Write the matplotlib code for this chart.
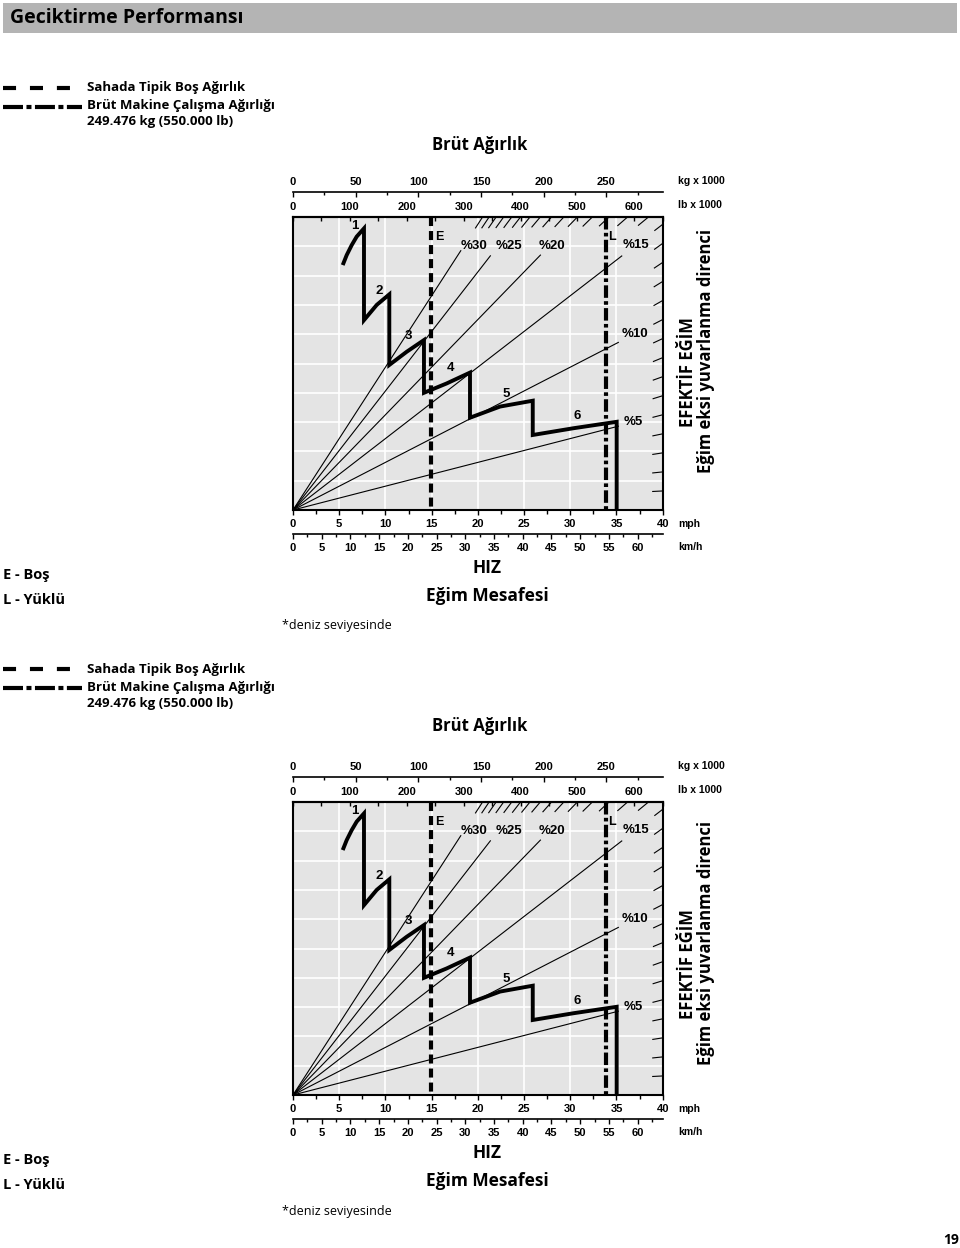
import numpy as np
import matplotlib
matplotlib.use("Agg")
import matplotlib.pyplot as plt
from matplotlib import font_manager as fm
from matplotlib.patches import Rectangle

# -----------------------------------------------------------------------------
# Chart data
# -----------------------------------------------------------------------------
MAX_MPH = 40          # bottom axis, mph
MAX_LB = 650          # gross weight axis, lb x 1000
MAX_FORCE = 100       # hidden vertical scale (retarding force)
EMPTY_LB = 243.5      # E - empty weight
LOADED_LB = 550       # L - loaded weight (550.000 lb)

GRADES = [30, 25, 20, 15, 10, 5]                 # labelled effective grade lines, %
GRADE_LINE_END_LB = [295, 347, 435, 578, 572, 572]
HATCH_GRADES = list(range(1, 31))                # small grade ticks at the edges

GEAR_NAMES = ["1", "2", "3", "4", "5", "6"]
GEAR_SPEED = [
    [5.38, 5.81, 6.35, 6.89, 7.68],
    [7.68, 9.06, 10.42],
    [10.42, 12.30, 14.17],
    [14.17, 16.63, 19.15],
    [19.15, 22.40, 25.94],
    [25.94, 30.33, 35.02],
]
GEAR_FORCE = [
    [83.6, 87.0, 90.4, 93.3, 96.1],
    [64.8, 70.0, 73.6],
    [49.5, 54.0, 58.0],
    [40.0, 43.2, 46.9],
    [31.5, 35.3, 37.3],
    [25.6, 27.9, 30.1],
]

LB_TICKS = np.arange(0, 601, 100)
KG_TICKS = np.arange(0, 251, 50)
MPH_TICKS = np.arange(0, 41, 5)
KMH_TICKS = np.arange(0, 61, 5)

LEGEND_EMPTY = "Sahada Tipik Boş Ağırlık"
LEGEND_LOADED = ["Brüt Makine Çalışma Ağırlığı", "249.476 kg (550.000 lb)"]

# -----------------------------------------------------------------------------
# Layout (pixels)
# -----------------------------------------------------------------------------
W_PX, H_PX = 960, 1248
PLOT_L, PLOT_T, PLOT_W, PLOT_H = 293, 217, 369.7, 293
CHART_OFFSETS = [0, 585]

# label positions: (lb, force) for grade labels, (mph, force) for gears
GRADE_LABEL_POS = [(318, 90), (380, 90), (455, 90), (603, 90.4), (601, 60.1), (598, 29.9)]
GEAR_LABEL_POS = [(6.71, 97.0), (9.34, 74.8), (12.48, 59.4), (17.06, 48.4), (23.12, 39.5), (30.76, 32.1)]

names = {f.name for f in fm.fontManager.ttflist}
NUM_FONT = "Liberation Sans Narrow" if "Liberation Sans Narrow" in names else "Liberation Sans"
PROSE = ["Open Sans", "DejaVu Sans"]
TICK_SIZE = 8

plt.rcParams["font.family"] = [NUM_FONT, "DejaVu Sans"]
plt.rcParams["font.weight"] = "bold"
plt.rcParams["lines.scale_dashes"] = False


def mph_to_lb(x):
    return np.asarray(x) * MAX_LB / MAX_MPH


def lb_to_mph(w):
    return np.asarray(w) * MAX_MPH / MAX_LB


def mph_to_kg(x):
    return mph_to_lb(x) / 2.20462


def kg_to_mph(k):
    return lb_to_mph(np.asarray(k) * 2.20462)


def mph_to_kmh(x):
    return np.asarray(x) * 1.609344


def kmh_to_mph(k):
    return np.asarray(k) / 1.609344


def px_rect(left, top, width, height):
    return [left / W_PX, 1 - (top + height) / H_PX, width / W_PX, height / H_PX]


def draw_chart(fig, dy):
    ax = fig.add_axes(px_rect(PLOT_L, PLOT_T + dy, PLOT_W, PLOT_H))
    ax.set_xlim(0, MAX_MPH)
    ax.set_ylim(0, MAX_FORCE)
    ax.set_facecolor("#e4e4e4")

    # white grid
    ax.set_xticks(MPH_TICKS)
    ax.set_xticks(np.arange(0, 40.1, 2.5), minor=True)
    ax.set_yticks(np.arange(0, 101, 10))
    ax.grid(True, which="major", color="white", lw=1.2)
    ax.set_axisbelow(True)
    ax.tick_params(axis="y", left=False, labelleft=False)
    ax.tick_params(axis="x", which="major", direction="out", length=3.4, width=1,
                   pad=3.2, labelsize=TICK_SIZE, top=False)
    ax.tick_params(axis="x", which="minor", direction="out", length=3.0, width=1, top=False)
    for s in ax.spines.values():
        s.set_linewidth(1.5)

    # weight axes on top
    lb_ax = ax.secondary_xaxis("top", functions=(mph_to_lb, lb_to_mph))
    lb_ax.set_xticks(LB_TICKS)
    lb_ax.set_xticks(np.arange(50, 651, 100), minor=True)
    lb_ax.tick_params(which="both", direction="in", length=3, width=1, pad=3.3,
                      labelsize=TICK_SIZE)
    lb_ax.spines["top"].set_linewidth(1.5)

    kg_ax = ax.secondary_xaxis(1 + 24.7 / PLOT_H, functions=(mph_to_kg, kg_to_mph))
    kg_ax.set_xticks(KG_TICKS)
    kg_ax.set_xticks(np.arange(25, 276, 50), minor=True)
    kg_ax.tick_params(which="major", direction="in", length=3.4, width=1, pad=3.5,
                      labelsize=TICK_SIZE)
    kg_ax.tick_params(which="minor", direction="in", length=2.4, width=1)
    kg_ax.spines["top"].set_linewidth(1.2)

    kmh_ax = ax.secondary_xaxis(-(534.3 - 510) / PLOT_H, functions=(mph_to_kmh, kmh_to_mph))
    kmh_ax.set_xticks(KMH_TICKS)
    kmh_ax.set_xticks(np.arange(2.5, 64, 5), minor=True)
    kmh_ax.tick_params(which="major", direction="out", length=3.4, width=1, pad=2.6,
                       labelsize=TICK_SIZE)
    kmh_ax.tick_params(which="minor", direction="out", length=2.4, width=1)
    kmh_ax.spines["bottom"].set_linewidth(1.2)

    # effective grade lines from the origin
    for g, w_end, (wl, fl) in zip(GRADES, GRADE_LINE_END_LB, GRADE_LABEL_POS):
        ax.plot([0, lb_to_mph(w_end)], [0, g * w_end / 100], color="black", lw=0.8)
        ax.text(lb_to_mph(wl), fl, f"%{g}", ha="center", va="center", fontsize=9.5)

    # short grade ticks along the top and right edges
    px_lb = PLOT_W / MAX_LB
    px_f = PLOT_H / MAX_FORCE
    for g in HATCH_GRADES:
        w_edge = min(MAX_LB, 100 * MAX_FORCE / g)
        seg = 10 if w_edge >= MAX_LB else 13
        w0 = w_edge - seg / np.hypot(px_lb, px_f * g / 100)
        ax.plot(lb_to_mph([w0, w_edge]), [g * w0 / 100, g * w_edge / 100],
                color="black", lw=0.8)

    # empty / loaded weight lines
    xe = lb_to_mph(EMPTY_LB)
    xl = lb_to_mph(LOADED_LB)
    ax.plot([xe, xe], [MAX_FORCE, 0], color="black", lw=3, dashes=(6.5, 3.6),
            dash_capstyle="butt")
    ax.plot([xl, xl], [MAX_FORCE, 0], color="black", lw=3, dashes=(9, 2.4, 2.6, 2.4),
            dash_capstyle="butt")
    ax.text(xe + 0.35, 93.2, "E", ha="left", va="center", fontsize=9)
    ax.text(xl + 0.3, 93.2, "L", ha="left", va="center", fontsize=9)

    # retarder performance curve
    cx, cy = [], []
    for sp, fo in zip(GEAR_SPEED, GEAR_FORCE):
        cx += sp
        cy += fo
    cx.append(GEAR_SPEED[-1][-1])
    cy.append(0)
    ax.plot(cx, cy, color="black", lw=2.8, solid_joinstyle="miter", solid_capstyle="butt")
    for name, (gx, gy) in zip(GEAR_NAMES, GEAR_LABEL_POS):
        ax.text(gx, gy, name, ha="center", va="center", fontsize=9.5)
    return ax


def draw_page_text(bg, dy_legend, dy_chart, dy_side):
    # legend
    y1, y2 = 88 + dy_legend, 107 + dy_legend
    bg.plot([3, 82], [y1, y1], color="black", lw=3, dashes=(9.4, 10), dash_capstyle="butt")
    bg.plot([3, 82], [y2, y2], color="black", lw=3, dashes=(14.4, 2.5, 3.6, 2.5),
            dash_capstyle="butt")
    bg.text(87, y1, LEGEND_EMPTY, family=PROSE, fontsize=9.5, weight="bold", va="center")
    bg.text(87, y2 - 1, LEGEND_LOADED[0], family=PROSE, fontsize=9.5, weight="bold", va="center")
    bg.text(87, 122 + dy_legend, LEGEND_LOADED[1], family=PROSE, fontsize=9.5,
            weight="bold", va="center")
    bg.text(480, 145 + dy_legend, "Brüt Ağırlık", family=PROSE, fontsize=12,
            weight="bold", ha="center", va="center")

    bg.text(678, 181 + dy_chart, "kg x 1000", fontsize=7.5, va="center")
    bg.text(678, 205 + dy_chart, "lb x 1000", fontsize=7.5, va="center")
    bg.text(678, 524 + dy_chart, "mph", fontsize=7.5, va="center")
    bg.text(678, 547 + dy_chart, "km/h", fontsize=7.5, va="center")

    bg.text(688, 372 + dy_side, "EFEKTİF EĞİM", family=PROSE, fontsize=12, weight="bold",
            rotation=90, ha="center", va="center")
    bg.text(706, 351 + dy_side, "Eğim eksi yuvarlanma direnci", family=PROSE, fontsize=12,
            weight="bold", rotation=90, ha="center", va="center")

    bg.text(487, 568 + dy_chart, "HIZ", family=PROSE, fontsize=12.5, weight="bold",
            ha="center", va="center")
    bg.text(487, 596 + dy_chart, "Eğim Mesafesi", family=PROSE, fontsize=12.5, weight="bold",
            ha="center", va="center")
    bg.text(282, 626 + dy_chart, "*deniz seviyesinde", family=PROSE, fontsize=9,
            weight="normal", va="center")
    bg.text(3, 575 + dy_chart, "E - Boş", family=PROSE, fontsize=10.5, weight="bold", va="center")
    bg.text(3, 600 + dy_chart, "L - Yüklü", family=PROSE, fontsize=10.5, weight="bold", va="center")


fig = plt.figure(figsize=(9.6, 12.48), dpi=100)
bg = fig.add_axes([0, 0, 1, 1])
bg.set_xlim(0, W_PX)
bg.set_ylim(H_PX, 0)
bg.axis("off")

bg.add_patch(Rectangle((3, 3), 954, 29.5, color="#b4b4b4", lw=0))
bg.text(10, 18, "Geciktirme Performansı", family=PROSE, fontsize=14, weight="bold", va="center")
bg.text(951, 1240, "19", family=PROSE, fontsize=10, weight="bold", ha="center", va="center")

draw_page_text(bg, 0, 0, 0)
draw_page_text(bg, 581, 585, 592)

for off in CHART_OFFSETS:
    draw_chart(fig, off)

fig.savefig("out.png", dpi=100)
